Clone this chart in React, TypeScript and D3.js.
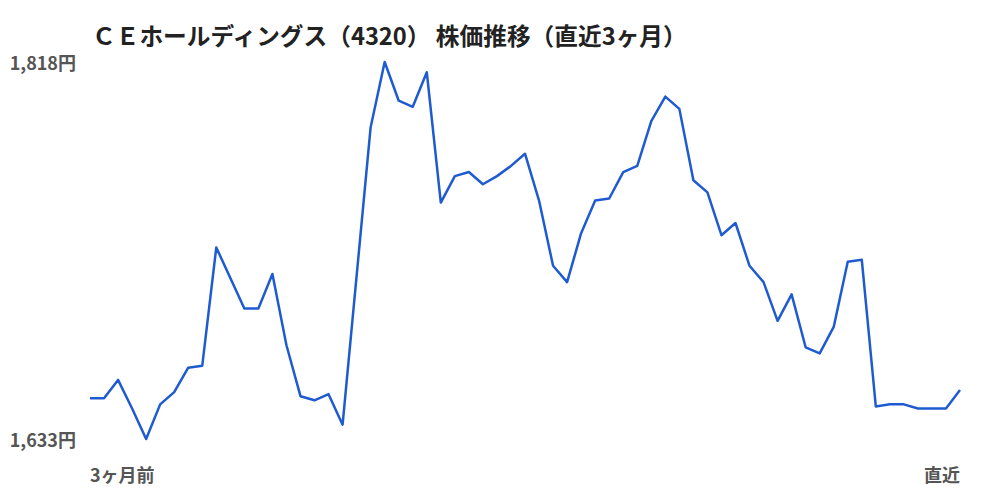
import * as d3 from 'd3';
import { useEffect, useRef } from 'react';

const title = 'ＣＥホールディングス（4320） 株価推移（直近3ヶ月）';
const prices = [
  1653, 1653, 1662, 1648, 1633, 1650, 1656, 1668, 1669, 1727,
  1712, 1697, 1697, 1714, 1679, 1654, 1652, 1655, 1640, 1713,
  1786, 1818, 1799, 1796, 1813, 1749, 1762, 1764, 1758, 1762,
  1767, 1773, 1750, 1718, 1710, 1734, 1750, 1751, 1764, 1767,
  1789, 1801, 1795, 1760, 1754, 1733, 1739, 1718, 1710, 1691,
  1704, 1678, 1675, 1688, 1720, 1721, 1649, 1650, 1650, 1648,
  1648, 1648, 1657,
];
const startLabel = '3ヶ月前';
const endLabel = '直近';

const font = '"Noto Sans CJK JP", "Noto Sans", sans-serif';

const App = () => {
  const ref = useRef<SVGSVGElement | null>(null);
  const width = 1000;
  const height = 500;
  const margin = { left: 90, right: 40, top: 62, bottom: 61 };

  useEffect(() => {
    if (!ref.current) return;
    const svg = d3.select(ref.current);
    svg.selectAll('*').remove();

    const minV = d3.min(prices)!;
    const maxV = d3.max(prices)!;

    const x = d3
      .scaleLinear()
      .domain([0, prices.length - 1])
      .range([margin.left, width - margin.right]);
    const y = d3
      .scaleLinear()
      .domain([minV, maxV])
      .range([height - margin.bottom, margin.top]);

    const line = d3
      .line<number>()
      .x((_, i) => x(i))
      .y((d) => y(d));

    svg
      .append('text')
      .attr('x', 92)
      .attr('y', 35)
      .attr('dominant-baseline', 'central')
      .attr('font-family', font)
      .attr('font-size', 23.7)
      .attr('font-weight', 700)
      .attr('fill', '#222')
      .style('white-space', 'pre')
      .text(title);

    // min / max labels
    const fmt = d3.format(',');
    [maxV, minV].forEach((v) => {
      svg
        .append('text')
        .attr('x', 76)
        .attr('y', y(v))
        .attr('text-anchor', 'end')
        .attr('dominant-baseline', 'central')
        .attr('font-family', font)
        .attr('font-size', 18)
        .attr('font-weight', 700)
        .attr('fill', '#555')
        .text(`${fmt(v)}円`);
    });

    svg
      .append('path')
      .datum(prices)
      .attr('d', line)
      .attr('fill', 'none')
      .attr('stroke', '#1f5bd0')
      .attr('stroke-width', 2.5)
      .attr('stroke-linejoin', 'round');

    svg
      .append('text')
      .attr('x', x(0))
      .attr('y', 474)
      .attr('dominant-baseline', 'central')
      .attr('font-family', font)
      .attr('font-size', 18)
      .attr('font-weight', 700)
      .attr('fill', '#555')
      .text(startLabel);

    svg
      .append('text')
      .attr('x', x(prices.length - 1))
      .attr('y', 474)
      .attr('text-anchor', 'end')
      .attr('dominant-baseline', 'central')
      .attr('font-family', font)
      .attr('font-size', 18)
      .attr('font-weight', 700)
      .attr('fill', '#555')
      .text(endLabel);
  }, []);

  return (
    <div style={{ position: 'fixed', left: 0, top: 0, background: '#fff' }}>
      <svg ref={ref} width={width} height={height} style={{ display: 'block' }} />
    </div>
  );
};

export default App;
